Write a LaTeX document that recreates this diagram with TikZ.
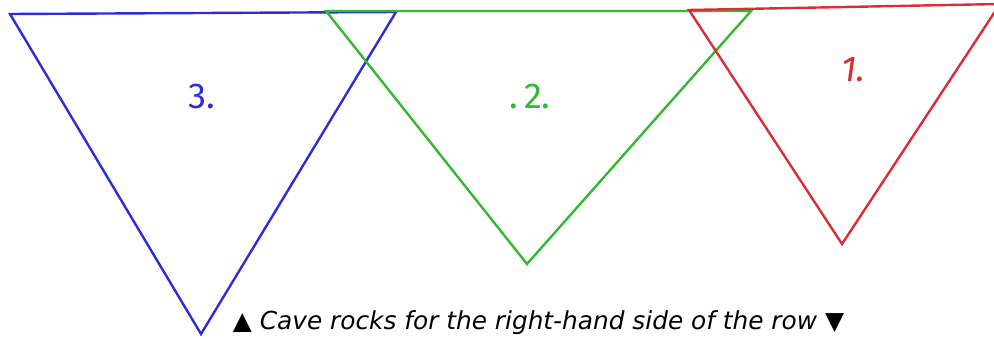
\documentclass[tikz,border=0pt]{standalone}
\usepackage{fontspec}
\setmainfont{Fira Sans}
\newfontfamily\symfont{DejaVu Sans}
\usepackage{xcolor}
\usepackage{tikz}
\usetikzlibrary{positioning}
\definecolor{rockblue}{RGB}{45,45,215}
\definecolor{rockgreen}{RGB}{50,185,50}
\definecolor{rockred}{RGB}{220,45,55}
\tikzset{
  rock/.style={line width=2.4pt, line join=miter},
  rocklabel/.style={font=\fontsize{36}{36}\selectfont}
}

\begin{document}
\begin{tikzpicture}[x=1pt,y=-1pt]
  \useasboundingbox (0,0) rectangle (994,339);
  % blue rock (3.)
  \coordinate (b1) at (10,14);
  \coordinate (b2) at (396,12);
  \coordinate (b3) at (201,334);
  \draw[rockblue, rock] (b1) -- (b2) -- (b3) -- cycle;
  \node[rocklabel, text=rockblue] (lab3) at (202,96) {3.};
  % green rock (2.)
  \coordinate (g1) at (326,11);
  \coordinate (g2) at (751,11);
  \coordinate (g3) at (527,264);
  \draw[rockgreen, rock] (g1) -- (g2) -- (g3) -- cycle;
  \node[rocklabel, text=rockgreen] (lab2) at (530,96) {.\,2.};
  % red rock (1.)
  \coordinate (r1) at (689,10);
  \coordinate (r2) at (1000,4);
  \coordinate (r3) at (842,244);
  \draw[rockred, rock] (r1) -- (r2) -- (r3) -- cycle;
  \node[rocklabel, text=rockred] (lab1) at (853,70) {\itshape 1.};
  % caption
  \node[font=\symfont\fontsize{24.8}{24.8}\selectfont] (cap) at (538.5,323)
    {▲ \itshape Cave rocks for the right-hand side of the row \upshape▼};
\end{tikzpicture}
\end{document}
